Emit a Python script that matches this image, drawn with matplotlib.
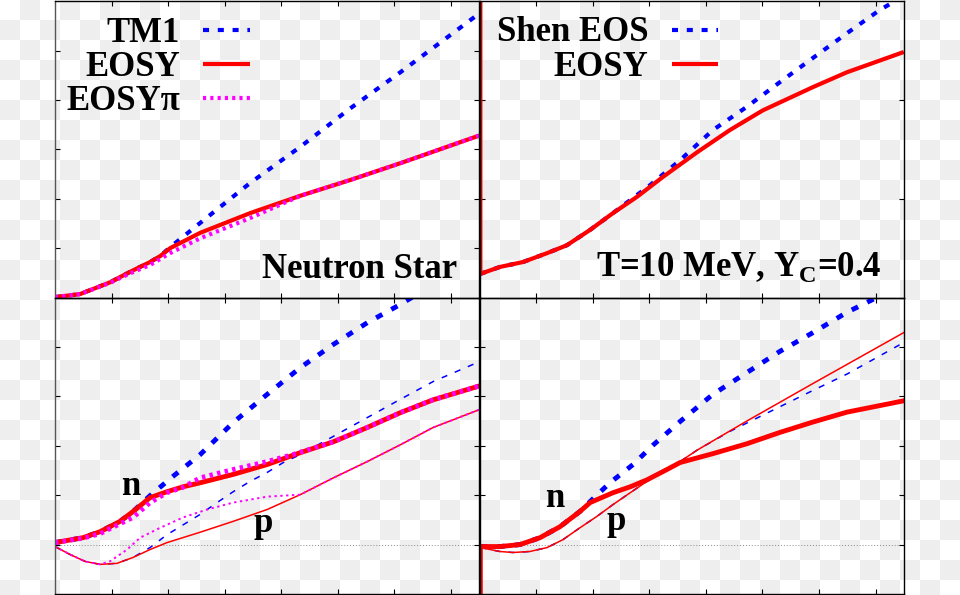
import matplotlib
matplotlib.use("Agg")
import matplotlib.pyplot as plt
import numpy as np
from matplotlib.colors import ListedColormap

# x: baryon density (fm^-3), y: MeV

# --- top left: neutron star
ns_tm1_x = [0.0, 0.088, 0.195, 0.265, 0.336, 0.372, 0.407, 0.513, 0.690, 0.867, 1.044, 1.221, 1.50]
ns_tm1_y = [1, 7, 31, 52, 72, 84, 102, 151, 232, 305, 383, 456, 575]
ns_eosy_x = [0.0, 0.088, 0.195, 0.265, 0.336, 0.372, 0.407, 0.513, 0.690, 0.867, 1.044, 1.221, 1.50]
ns_eosy_y = [1, 7, 31, 52, 72, 84, 100, 131, 171, 206, 238, 272, 328]
ns_pi_x = [0.0, 0.088, 0.195, 0.265, 0.336, 0.407, 0.513, 0.690, 0.796, 0.867, 1.044, 1.221, 1.50]
ns_pi_y = [1, 7, 30, 49, 66, 90, 120, 161, 188, 206, 238, 272, 328]

# --- top right: T=10 MeV, Yc=0.4
sn_eosy_x = [0.003, 0.003, 0.072, 0.154, 0.239, 0.309, 0.391, 0.472, 0.557, 0.648, 0.769, 0.885, 1.002, 1.179, 1.299, 1.50]
sn_eosy_y = [700, 48, 62, 72, 90, 106, 137, 171, 204, 244, 294, 339, 379, 426, 456, 497]
sn_shen_x = [0.003, 0.072, 0.154, 0.239, 0.309, 0.391, 0.472, 0.509, 0.604, 0.709, 0.825, 0.945, 1.062, 1.179, 1.299, 1.415, 1.475]
sn_shen_y = [48, 62, 72, 90, 106, 137, 171, 187, 228, 278, 339, 386, 436, 485, 535, 582, 602]

# --- bottom left: neutron star, n and p
nsb_tm1_n_x = [0.0, 0.099, 0.159, 0.230, 0.276, 0.336, 0.417, 0.513, 0.630, 0.750, 0.867, 0.984, 1.104, 1.221, 1.267]
nsb_tm1_n_y = [4, 14, 26, 47, 67, 99, 138, 182, 247, 304, 358, 405, 449, 486, 502]
nsb_eosy_n_x = [0.0, 0.099, 0.159, 0.230, 0.276, 0.336, 0.396, 0.453, 0.513, 0.630, 0.750, 0.867, 0.984, 1.104, 1.221, 1.337, 1.50]
nsb_eosy_n_y = [4, 14, 26, 47, 67, 95, 107, 117, 125, 142, 162, 186, 208, 237, 267, 293, 321]
nsb_pi_n_x = [0.0, 0.099, 0.159, 0.194, 0.276, 0.336, 0.396, 0.453, 0.513, 0.630, 0.750, 0.840, 0.984, 1.104, 1.221, 1.337, 1.50]
nsb_pi_n_y = [4, 13, 22, 32, 55, 85, 105, 116, 135, 152, 168, 182, 208, 237, 267, 293, 321]

nsb_tm1_p_x = [0.0, 0.053, 0.106, 0.159, 0.219, 0.276, 0.336, 0.396, 0.453, 0.513, 0.573, 0.630, 0.690, 0.750, 0.807, 0.867, 0.984, 1.104, 1.221, 1.337, 1.50]
nsb_tm1_p_y = [-4, -20, -34, -40, -38, -26, -6, 20, 40, 61, 85, 107, 128, 146, 166, 182, 219, 257, 294, 330, 370]
nsb_eosy_p_x = [0.0, 0.053, 0.106, 0.159, 0.219, 0.276, 0.336, 0.396, 0.513, 0.630, 0.750, 0.867, 0.984, 1.104, 1.221, 1.337, 1.50]
nsb_eosy_p_y = [-4, -20, -34, -40, -38, -26, -10, 4, 25, 47, 71, 101, 135, 168, 202, 237, 273]
nsb_pi_p_x = [0.0, 0.053, 0.106, 0.159, 0.194, 0.255, 0.301, 0.372, 0.453, 0.538, 0.630, 0.750, 0.867, 0.984, 1.104, 1.221, 1.337, 1.50]
nsb_pi_p_y = [-4, -20, -34, -40, -34, -10, 14, 34, 55, 71, 85, 97, 101, 135, 168, 202, 237, 273]

# --- bottom right: T=10 MeV, n and p
sb_shen_n_x = [0.003, 0.072, 0.143, 0.214, 0.284, 0.355, 0.391, 0.461, 0.543, 0.615, 0.709, 0.825, 0.945, 1.062, 1.179, 1.299, 1.415]
sb_shen_n_y = [-4, -4, 0, 14, 36, 67, 87, 125, 162, 202, 249, 304, 348, 391, 429, 470, 503]
sb_eosy_n_x = [0.003, 0.003, 0.072, 0.143, 0.214, 0.284, 0.355, 0.391, 0.472, 0.533, 0.592, 0.663, 0.709, 0.825, 0.945, 1.062, 1.179, 1.299, 1.50]
sb_eosy_n_y = [-200, -4, -4, 0, 14, 36, 67, 85, 105, 117, 131, 152, 166, 184, 204, 227, 248, 268, 291]
sb_shen_p_x = [0.003, 0.072, 0.118, 0.178, 0.239, 0.295, 0.355, 0.415, 0.472, 0.533, 0.592, 0.650, 0.709, 0.769, 0.885, 1.062, 1.179, 1.299, 1.50]
sb_shen_p_y = [-6, -14, -16, -14, -6, 10, 34, 57, 81, 105, 128, 148, 168, 191, 229, 279, 312, 345, 409]
sb_eosy_p_x = [0.003, 0.003, 0.072, 0.118, 0.178, 0.239, 0.295, 0.355, 0.415, 0.472, 0.533, 0.592, 0.650, 0.709, 0.769, 0.945, 1.179, 1.50]
sb_eosy_p_y = [-200, -6, -14, -16, -14, -6, 10, 34, 57, 81, 105, 128, 148, 168, 191, 250, 326, 429]

BLUE = "#0000ff"
RED = "#ff0000"
MAG = "#ff00ff"

plt.rcParams["font.family"] = ["Liberation Serif", "DejaVu Serif"]
plt.rcParams["font.weight"] = "bold"
plt.rcParams["mathtext.fontset"] = "custom"
plt.rcParams["mathtext.rm"] = "Liberation Serif:bold"

fig = plt.figure(figsize=(9.6, 5.95), dpi=100)

# transparent-looking checkerboard behind everything
bg = fig.add_axes([0, 0, 1, 1], zorder=0)
ii, jj = np.meshgrid(np.arange(48), np.arange(30))
board = ((ii + jj) % 2).astype(float)
bg.imshow(board, cmap=ListedColormap(["white", "#eeeeee"]), extent=(0, 960, 600, 0),
          interpolation="nearest", aspect="auto")
bg.set_xlim(0, 960)
bg.set_ylim(595, 0)
bg.axis("off")

lx, rx, w = 55 / 960, 479.5 / 960, 424.3 / 960
ty, by, h = 1 - 297.6 / 595, 1 - 594 / 595, 296.5 / 595
ax_tl = fig.add_axes([lx, ty, w, h], zorder=1)
ax_tr = fig.add_axes([rx, ty, w, h], zorder=1)
ax_bl = fig.add_axes([lx, by, w, h], zorder=1)
ax_br = fig.add_axes([rx, by, w, h], zorder=1)

for ax in (ax_tl, ax_tr, ax_bl, ax_br):
    ax.set_facecolor("none")
    ax.set_xlim(0, 1.5)
    ax.set_xticks(np.arange(0.2, 1.45, 0.2))
    ax.tick_params(direction="in", length=3.6, width=0.8, top=True, right=True,
                   labelbottom=False, labelleft=False)
    for s in ax.spines.values():
        s.set_linewidth(1.0)
        s.set_color("black")
ax_tl.spines["left"].set_color("#555555")
ax_bl.spines["left"].set_color("#555555")
for ax in (ax_tl, ax_tr):
    ax.set_ylim(0, 600)
for ax in (ax_bl, ax_br):
    ax.set_ylim(-100, 500)
    ax.set_yticks(np.arange(0, 450, 100))
    ax.axhline(0, color="#888888", lw=0.7, ls=(0, (1, 2)), zorder=1)
ax_tl.set_yticks(np.arange(100, 550, 100))
ax_tr.set_yticks([200, 400])

thick_dash = dict(color=BLUE, lw=3.0, dashes=(1.45, 2.1))
thick_red = dict(color=RED, lw=3.0, solid_capstyle="butt")
thick_dot = dict(color=MAG, lw=3.0, dashes=(0.75, 1.0))

# top left
ax_tl.plot(ns_tm1_x, ns_tm1_y, **thick_dash)
ax_tl.plot(ns_eosy_x, ns_eosy_y, **thick_red)
ax_tl.plot(ns_pi_x, ns_pi_y, **thick_dot)

# top right
ax_tr.plot(sn_shen_x, sn_shen_y, **thick_dash)
ax_tr.plot(sn_eosy_x, sn_eosy_y, **thick_red)

# bottom left
ax_bl.plot(nsb_tm1_p_x, nsb_tm1_p_y, color=BLUE, lw=1.1, dashes=(4, 5.3))
ax_bl.plot(nsb_eosy_p_x, nsb_eosy_p_y, color=RED, lw=1.1)
ax_bl.plot(nsb_pi_p_x, nsb_pi_p_y, color=MAG, lw=1.4, dashes=(1.2, 1.8))
ax_bl.plot(nsb_tm1_n_x, nsb_tm1_n_y, color=BLUE, lw=3.5, dashes=(1.45, 2.1))
ax_bl.plot(nsb_eosy_n_x, nsb_eosy_n_y, color=RED, lw=3.5)
ax_bl.plot(nsb_pi_n_x, nsb_pi_n_y, color=MAG, lw=3.5, dashes=(0.7, 0.9))

# bottom right
ax_br.plot(sb_shen_p_x, sb_shen_p_y, color=BLUE, lw=1.1, dashes=(4, 5.3))
ax_br.plot(sb_eosy_p_x, sb_eosy_p_y, color=RED, lw=1.1)
ax_br.plot(sb_shen_n_x, sb_shen_n_y, color=BLUE, lw=3.5, dashes=(1.45, 2.1))
ax_br.plot(sb_eosy_n_x, sb_eosy_n_y, color=RED, lw=3.5)

FS = 25

# legends drawn by hand so the text sits left of the sample
def key(ax, label, ytxt, yline, x_txt, x0, x1, style):
    ax.text(x_txt, ytxt, label, transform=ax.transAxes, ha="right", va="baseline",
            fontsize=FS, fontweight="bold")
    ax.plot([x0, x1], [yline, yline], transform=ax.transAxes, clip_on=False, **style)

key(ax_tl, "TM1", 0.863, 0.902, 0.295, 0.349, 0.460, thick_dash)
key(ax_tl, "EOSY", 0.747, 0.787, 0.295, 0.349, 0.460, thick_red)
key(ax_tl, "EOSY\u03c0", 0.632, 0.672, 0.295, 0.349, 0.460, thick_dot)
key(ax_tr, "Shen EOS", 0.865, 0.902, 0.398, 0.453, 0.563, thick_dash)
key(ax_tr, "EOSY", 0.747, 0.787, 0.398, 0.453, 0.563, thick_red)

ax_tl.text(0.947, 0.065, "Neutron Star", transform=ax_tl.transAxes, ha="right",
           va="baseline", fontsize=FS, fontweight="bold")
ax_tr.text(0.947, 0.073, r"T=10 MeV, Y$_\mathrm{C}$=0.4", transform=ax_tr.transAxes,
           ha="right", va="baseline", fontsize=FS, fontweight="bold")

for ax, (nx, ny), (px, py) in ((ax_bl, (0.178, 0.334), (0.491, 0.210)),
                               (ax_br, (0.178, 0.295), (0.323, 0.216))):
    ax.text(nx, ny, "n", transform=ax.transAxes, ha="center", va="baseline",
            fontsize=FS, fontweight="bold")
    ax.text(px, py, "p", transform=ax.transAxes, ha="center", va="baseline",
            fontsize=FS, fontweight="bold")

fig.savefig("out.png", dpi=100)
